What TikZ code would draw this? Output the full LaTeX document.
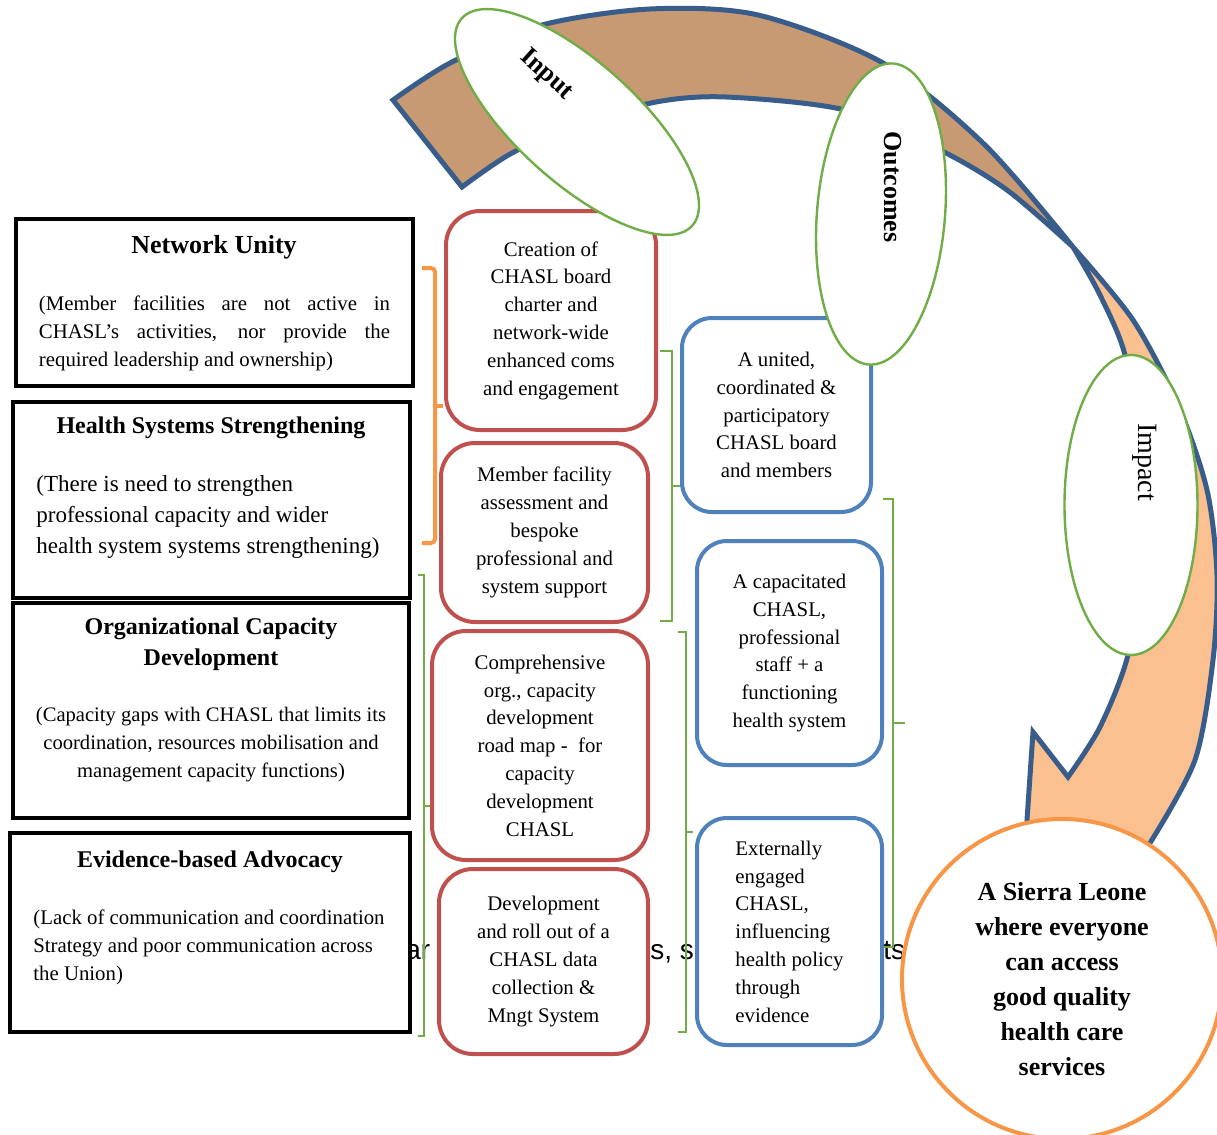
\documentclass[tikz,border=0pt]{standalone}
\usepackage{fontspec}
\setmainfont{Liberation Serif}
\newfontfamily\fragfont{Liberation Sans}
\usetikzlibrary{shapes.geometric}
\definecolor{actred}{HTML}{C0504D}
\definecolor{outblue}{HTML}{4F81BD}
\definecolor{stagegreen}{HTML}{70AD47}
\definecolor{goalorange}{HTML}{F79646}
\definecolor{bandblue}{HTML}{385D8A}
\definecolor{bandbrown}{HTML}{C89A74}
\definecolor{bandpeach}{HTML}{FAC090}
\tikzstyle{problem} = [rectangle, draw=black, line width=2pt, fill=white]
\tikzstyle{probtitle} = [font=\bfseries\fontsize{12}{15.5}\selectfont, align=center, inner sep=0pt]
\tikzstyle{probtext} = [font=\fontsize{10.4}{14}\selectfont, inner sep=0pt]
\tikzstyle{activity} = [rectangle, rounded corners=17pt, draw=actred, line width=2pt, fill=white, align=center, font=\fontsize{10.4}{13.9}\selectfont]
\tikzstyle{outcome} = [rectangle, rounded corners=15pt, draw=outblue, line width=2pt, fill=white, font=\fontsize{10.4}{13.9}\selectfont]
\tikzstyle{stage} = [ellipse, draw=stagegreen, line width=1.2pt, fill=white, inner sep=0pt]
\tikzstyle{stagelabel} = [font=\bfseries\fontsize{13}{15}\selectfont, inner sep=0pt]
\tikzstyle{goal} = [circle, draw=goalorange, line width=2pt, fill=white, align=center, inner sep=0pt, font=\bfseries\fontsize{13}{17.5}\selectfont]
\tikzstyle{band} = [draw=bandblue, line width=2.5pt, line join=miter]
\tikzstyle{greenbrace} = [draw=stagegreen, line width=1pt]
\tikzstyle{orangebrace} = [draw=goalorange, line width=2pt, rounded corners=2pt]
\tikzstyle{fragment} = [font=\fragfont\fontsize{14}{16}\selectfont, inner sep=0pt, anchor=base west]

\begin{document}
\begin{tikzpicture}[x=0.5pt,y=-0.5pt]
\clip (0,0) rectangle (1217,1135);
\fill[white] (0,0) rectangle (1217,1135);

% curved arrow, back side then front side
\filldraw[band, fill=bandbrown] plot[smooth] coordinates {(393,100) (452,62) (542,25) (650,9) (758,15) (883,63) (985,145) (1073,247)}
  -- plot[smooth] coordinates {(1073,247) (1007,190) (940,150) (845,110) (726,97) (656,102) (580,124) (512,153) (462,187)} -- cycle;
\filldraw[band, fill=bandpeach] plot[smooth] coordinates {(1073,247) (1133,320) (1178,405) (1207,490) (1217,575) (1213,660) (1195,760) (1150,843)}
  -- (1060,980) -- (1027,820) -- (1033,732)
  -- plot[smooth] coordinates {(1068,777) (1100,727) (1128,655) (1142,560) (1140,450) (1125,355) (1100,295) (1073,247)} -- cycle;

% text left behind the boxes
\node (fraga) [fragment] at (405,959) {ar};
\node (fragb) [fragment] at (650,959) {s, s};
\node (fragc) [fragment] at (883,959) {ts};

% brackets
\draw[orangebrace] (422,268) -- (435,268) -- (435,543) -- (422,543);
\draw[orangebrace] (435,406) -- (443,406);
\draw[greenbrace] (418,575) -- (424,575) -- (424,1036) -- (418,1036) (424,806) -- (430,806);
\draw[greenbrace] (660,351) -- (672,351) -- (672,621) -- (660,621) (672,486) -- (683,486);
\draw[greenbrace] (678,632) -- (686,632) -- (686,1032) -- (678,1032) (686,832) -- (693,832);
\draw[greenbrace] (883,499) -- (893,499) -- (893,947) -- (883,947) (893,723) -- (905,723);

% problem boxes
\node (nu) [problem, minimum width=198.5pt, minimum height=83.5pt] at (214.5,302.5) {};
\node (nutitle) [probtitle, font=\bfseries\fontsize{13}{15.5}\selectfont] at (214,247) {Network Unity};
\node (nutext) [probtext, align=left] at (214.5,333) {\makebox[175.5pt][s]{(Member facilities are not active in}\\
  \makebox[175.5pt][s]{CHASL’s activities, nor provide the}\\required leadership and ownership)};

\node (hss) [problem, minimum width=198.5pt, minimum height=98pt] at (211.5,500) {};
\node (hsstitle) [probtitle] at (211,428) {Health Systems Strengthening};
\node (hsstext) [probtext, font=\fontsize{11.5}{15.5}\selectfont, align=left, anchor=west] at (36,517) {(There is need to strengthen\\
  professional capacity and wider\\health system systems strengthening)};

\node (ocd) [problem, minimum width=198pt, minimum height=107.5pt] at (211,710.5) {};
\node (ocdtitle) [probtitle] at (211,644.5) {Organizational Capacity\\Development};
\node (ocdtext) [probtext, align=center, font=\fontsize{10.3}{13.8}\selectfont] at (211,744.5) {(Capacity gaps with CHASL that limits its\\
  coordination, resources mobilisation and\\management capacity functions)};

\node (eba) [problem, minimum width=200pt, minimum height=99.5pt] at (210,932.5) {};
\node (ebatitle) [probtitle] at (210,862) {Evidence-based Advocacy};
\node (ebatext) [probtext, align=left, anchor=west] at (33,947) {(Lack of communication and coordination\\
  Strategy and poor communication across\\the Union)};

% activities
\node (act1) [activity, minimum width=105pt, minimum height=109.5pt] at (551,320.5) {Creation of\\CHASL board\\charter and\\network-wide\\enhanced coms\\and engagement};
\node (act2) [activity, minimum width=103.5pt, minimum height=89.5pt] at (544.5,532.5) {Member facility\\assessment and\\bespoke\\professional and\\system support};
\node (act3) [activity, minimum width=108pt, minimum height=114.5pt] at (540,745.5) {Comprehensive\\org., capacity\\development\\road map -\ \ for\\capacity\\development\\CHASL};
\node (act4) [activity, minimum width=104.5pt, minimum height=92.5pt] at (543.5,961.5) {Development\\and roll out of a\\CHASL data\\collection \&\\Mngt System};

% outcomes
\node (out1) [outcome, align=center, minimum width=94.5pt, minimum height=97pt] at (776.5,415) {A united,\\coordinated \&\\participatory\\CHASL board\\and members};
\node (out2) [outcome, align=center, minimum width=92.5pt, minimum height=112pt] at (789.5,653) {A capacitated\\CHASL,\\professional\\staff + a\\functioning\\health system};
\node (out3) [outcome, align=left, minimum width=92.5pt, minimum height=113.5pt] at (789.5,931.5) {Externally\\engaged\\CHASL,\\influencing\\health policy\hspace*{14pt}\\through\\evidence};

% stages of the cycle
\node (input) [stage, minimum width=155pt, minimum height=60pt, rotate=-42] at (577,122) {};
\node (inputlbl) [stagelabel, rotate=-42] at (546,75) {Input};
\node (outcomes) [stage, minimum width=151pt, minimum height=64pt, rotate=-94.7] at (881,214) {};
\node (outcomeslbl) [stagelabel, rotate=-90] at (893,187) {Outcomes};
\node (impact) [stage, minimum width=66.5pt, minimum height=150pt] at (1131,505) {};
\node (impactlbl) [stagelabel, font=\fontsize{14}{16}\selectfont, rotate=-90] at (1145,462) {Impact};

% vision
\node (vision) [goal, minimum size=160pt] at (1062,979) {A Sierra Leone\\where everyone\\can access\\good quality\\health care\\services};
\end{tikzpicture}
\end{document}
